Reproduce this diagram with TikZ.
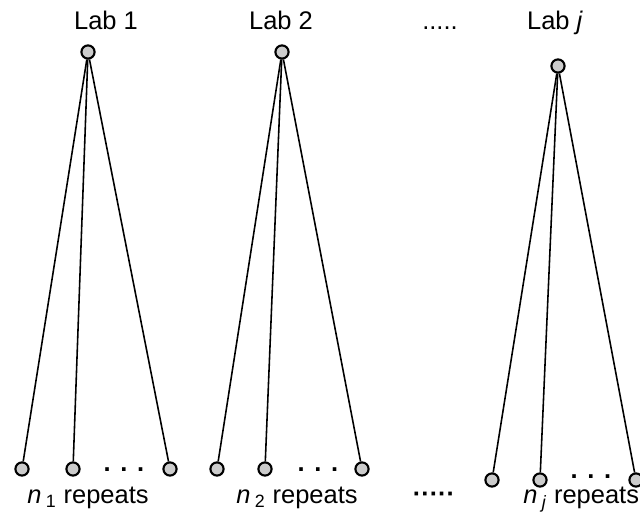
\documentclass[tikz,border=0pt]{standalone}
\usepackage{fontspec}
\setmainfont{Liberation Sans}
\usepackage{tikz}

\begin{document}
\begin{tikzpicture}[x=0.02cm,y=-0.02cm]
		\useasboundingbox (0,0) rectangle (640,513);
		\begin{scope}[every node/.style={circle,line width=1.2pt,draw,fill=black!20,minimum size=7.5pt,inner sep=0pt}]
		    \node (t1) at (88,52) {};
		    \node (t2) at (282,52) {};
		    \node (tj) at (558,66) {};
		    \node (b11) at (22,469) {};
		    \node (b12) at (73,469) {};
		    \node (b13) at (170,469) {};
		    \node (b21) at (217,469) {};
		    \node (b22) at (265,469) {};
		    \node (b23) at (362,469) {};
		    \node (bj1) at (492,480) {};
		    \node (bj2) at (540,480) {};
		    \node (bj3) at (636,480) {};
		\end{scope}

		\begin{scope}[every node/.style={inner sep=0pt,font=\fontsize{14.5}{17}\selectfont}]
		    \node[anchor=base] (lab1) at (106,30) {Lab 1};
		    \node[anchor=base] (lab2) at (281,30) {Lab 2};
		    \node[anchor=base] (labdots) at (440,30) {.....};
		    \node[anchor=base] (labj) at (555,30) {Lab \textit{j}};
		    \node (dots1) at (124,470) {\textbf{.\hspace{5.5pt}.\hspace{5.5pt}.}};
		    \node (dots2) at (318,470) {\textbf{.\hspace{5.5pt}.\hspace{5.5pt}.}};
		    \node (dotsj) at (591,477) {\textbf{.\hspace{5.5pt}.\hspace{5.5pt}.}};
		    \node[anchor=base west] (rep1) at (27,504) {\textit{n}\,\textsubscript{1} repeats};
		    \node[anchor=base west] (rep2) at (236,504) {\textit{n}\,\textsubscript{2} repeats};
		    \node (repdots) at (434,497) {\textbf{·····}};
		    \node[anchor=base west] (repj) at (523,504) {\textit{n}\,\textsubscript{\textit{j}} repeats};
		\end{scope}

		\begin{scope}[every edge/.style={draw=black,line width=0.9pt}]
		    \path (t1) edge (b11);
		    \path (t1) edge (b12);
		    \path (t1) edge (b13);
		    \path (t2) edge (b21);
		    \path (t2) edge (b22);
		    \path (t2) edge (b23);
		    \path (tj) edge (bj1);
		    \path (tj) edge (bj2);
		    \path (tj) edge (bj3);
		\end{scope}
\end{tikzpicture}
\end{document}
